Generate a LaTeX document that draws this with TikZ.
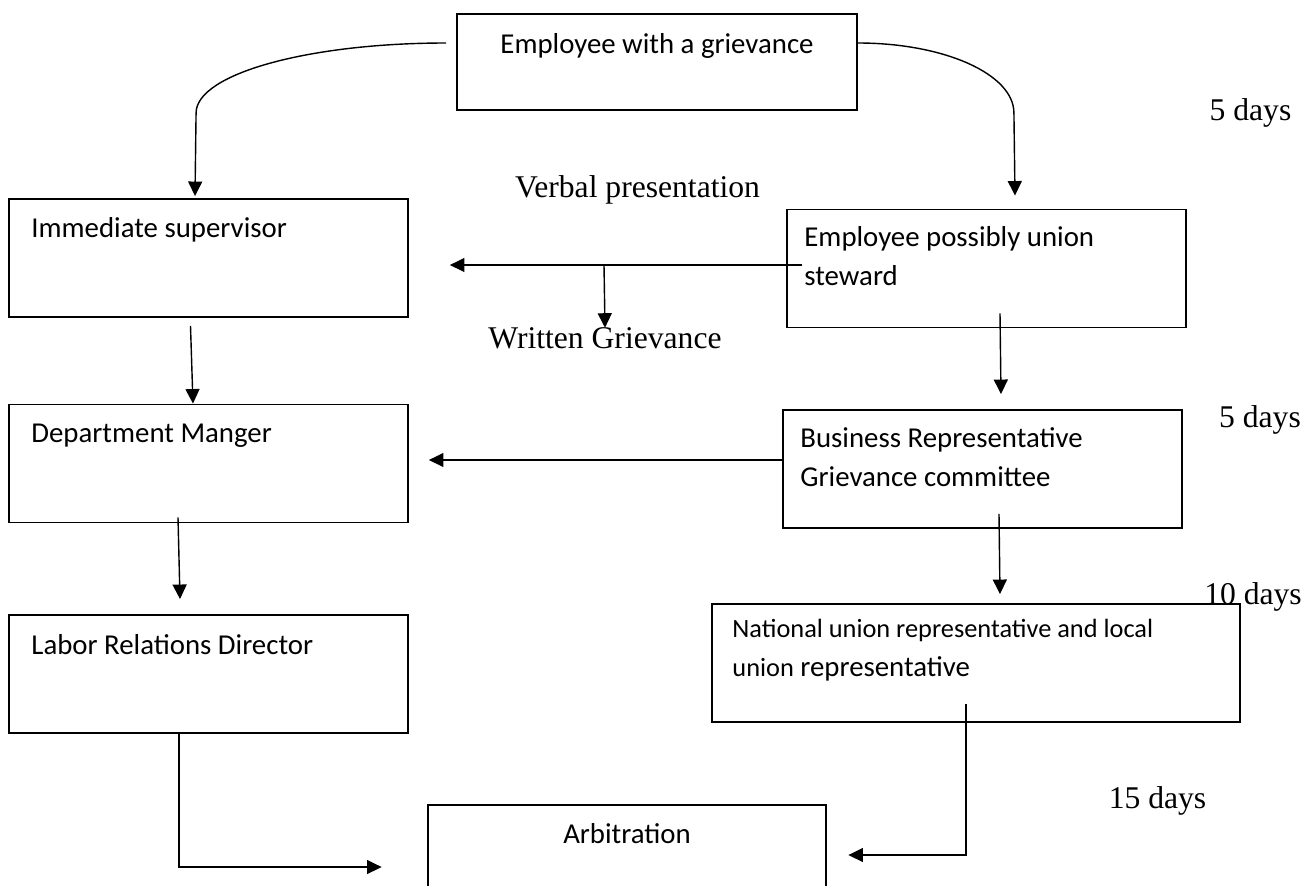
\documentclass[tikz,border=0pt]{standalone}
\usepackage{fontspec}
\setmainfont{Liberation Serif}
\newfontfamily\calibri{Carlito}
\usetikzlibrary{arrows.meta}

\tikzset{
  stage/.style={draw, line width=1.1pt, minimum width=7.98cm, minimum height=2.36cm, inner sep=0pt},
  stagetext/.style={font=\calibri\fontsize{16.4}{22}\selectfont, align=left, anchor=base west, inner sep=0pt},
  days/.style={font=\fontsize{18}{22}\selectfont, anchor=base, inner sep=0pt},
  flow/.style={line width=0.8pt, -{Triangle[length=2.9mm,width=2.8mm]}},
}

\begin{document}
\begin{tikzpicture}[x=0.02cm, y=-0.02cm]

    % page in pixel units, y grows downwards
    \useasboundingbox (0,0) rectangle (1313,886);

    % === Boxes ===
    \node[stage, minimum width=8cm, minimum height=1.92cm] (empl) at (657,62) {};
    \node[stage] (sup)  at (208.5,258)  {};
    \node[stage] (stew) at (986.5,268.5) {};
    \node[stage] (dept) at (208.5,463.5) {};
    \node[stage] (biz)  at (982.5,469)  {};
    \node[stage] (lab)  at (208.5,674)  {};
    \node[stage, minimum width=10.56cm] (natl) at (976,663) {};
    \node[stage] (arb)  at (627,864)    {};

    % === Box texts (base = last line) ===
    \node[stagetext, anchor=base] (empltxt) at ([shift={(0,40)}]empl.north) {Employee with a grievance};
    \node[stagetext] (suptxt)  at ([shift={(23,39)}]sup.north west)  {Immediate supervisor};
    \node[stagetext] (depttxt) at ([shift={(23,39)}]dept.north west) {Department Manger};
    \node[stagetext] (labtxt)  at ([shift={(23,40)}]lab.north west)  {Labor Relations Director};
    \node[stagetext] (stewtxt) at ([shift={(18,77)}]stew.north west) {Employee possibly union\\steward};
    \node[stagetext] (biztxt)  at ([shift={(18,77)}]biz.north west)  {Business Representative\\Grievance committee};
    \node[stagetext] (natltxt) at ([shift={(21,73)}]natl.north west)
        {{\fontsize{15}{21}\selectfont National union representative and local}\\{\fontsize{15}{21}\selectfont union} representative};
    \node[stagetext, anchor=base] (arbtxt) at ([shift={(0,39)}]arb.north) {Arbitration};

    % === Notes ===
    \node[days] (verbal)  at (637.5,197) {Verbal presentation};
    \node[days] (written) at (605,348)   {Written Grievance};
    \node[days] (dfirst)  at (1250.5,120) {5 days};
    \node[days] (dsecond) at (1260,427)  {5 days};
    \node[days] (dthird)  at (1253,604)  {10 days};
    \node[days] (dfourth) at (1157.5,808) {15 days};
    \coordinate (vj) at (604,265);

    % === Connectors ===
    \draw[flow] ([shift={(-10,-19)}]empl.west) .. controls +(-138,0) and +(0,-39) .. ++(-250,70) -- ([shift={(-13.5,-2)}]sup.north);
    \draw[flow] ([shift={(0,-19)}]empl.east) .. controls +(86,0) and +(0,-39) .. ++(156,70) -- ([shift={(28.5,-13)}]stew.north);
    \draw[flow] ([shift={(16,-3.5)}]stew.west) -- ([shift={(41,7)}]sup.east);
    \draw[flow] (vj) -- ([shift={(0,1)}]written.north);
    \draw[flow] ([shift={(-18,8)}]sup.south) -- ([shift={(-15.5,0)}]dept.north);
    \draw[flow] ([shift={(13.5,-15)}]stew.south) -- ([shift={(18.5,-15)}]biz.north);
    \draw[flow] ([shift={(2,-9)}]biz.west) -- ([shift={(20,-3.5)}]dept.east);
    \draw[flow] ([shift={(-30.5,-6)}]dept.south) -- ([shift={(-28.5,-15)}]lab.north);
    \draw[flow] ([shift={(16.5,-15)}]biz.south) -- ([shift={(24,-9)}]natl.north);
    \draw[flow] ([shift={(-10,-19)}]natl.south) |- ([shift={(21,-9)}]arb.east);
    \draw[flow] ([shift={(-29.5,0)}]lab.south) |- ([shift={(-45,3)}]arb.west);

\end{tikzpicture}
\end{document}
